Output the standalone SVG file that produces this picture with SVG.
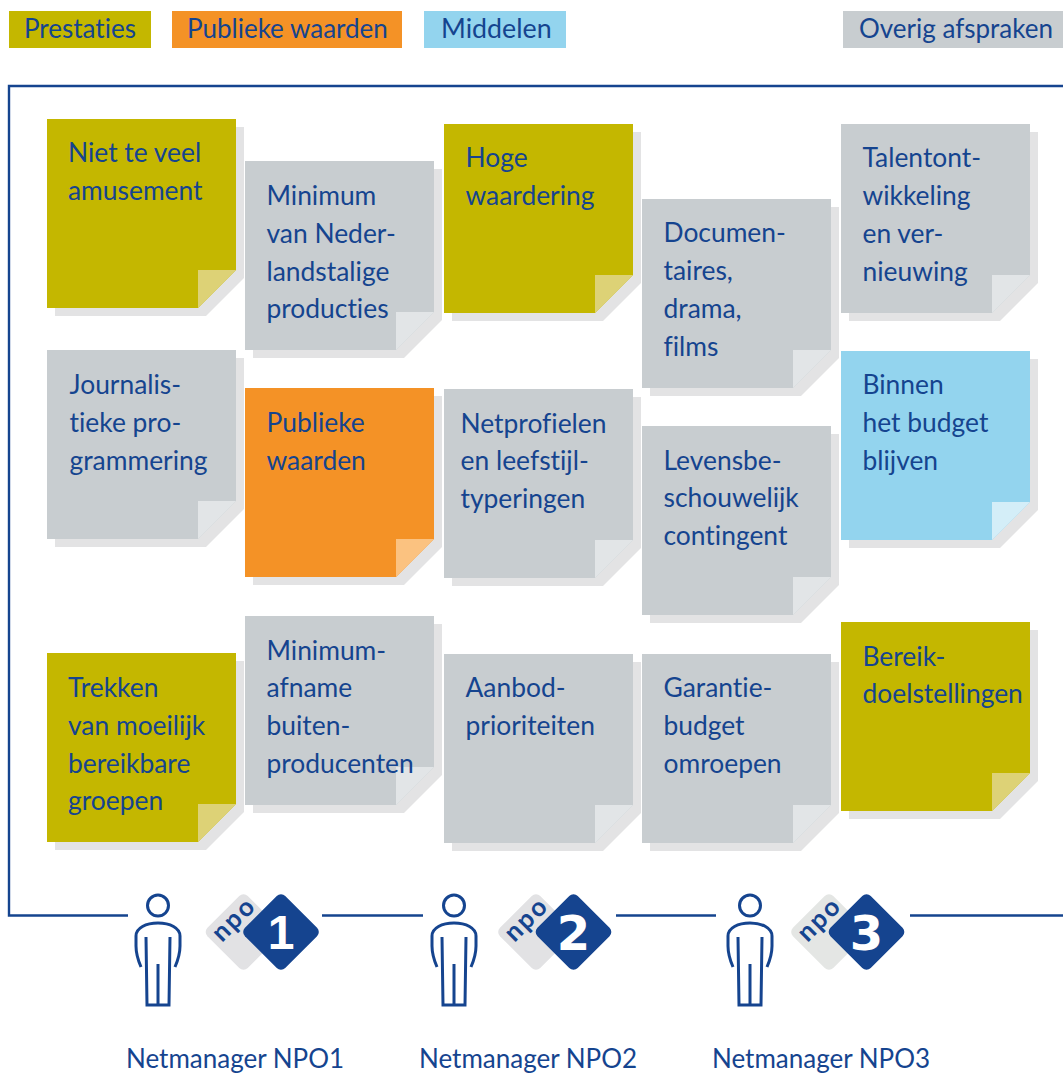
<svg xmlns="http://www.w3.org/2000/svg" width="1063" height="1075" viewBox="0 0 1063 1075">
<style>
text{font-family:Lato,"Noto Sans",sans-serif;font-size:26px;fill:#15448F;font-variant-ligatures:none}
g[id^=note] text{font-size:26.400px}
.sh{fill:#E3E3E4}
.ol{fill:#C4B700}.olf{fill:#DDD276}
.gr{fill:#C8CDD0}.grf{fill:#E2E5E7}
.or{fill:#F49226}.orf{fill:#FBC280}
.bl{fill:#93D4EE}.blf{fill:#D4EEF8}
.frame{fill:none;stroke:#15448F;stroke-width:2.400}
.person{fill:none;stroke:#15448F;stroke-width:3}
text.npo{font-size:26px;font-weight:700;letter-spacing:2px}
text.num{font-family:"DejaVu Sans",sans-serif;font-size:48px;font-weight:700;fill:#fff;text-anchor:middle}
text.one{font-family:"Liberation Sans",sans-serif}
</style>
<defs>
<path id="sheet" d="M0 0H189V151L151 189H0Z"/>
<path id="shadow" d="M8 8H197V159L159 197H8Z"/>
<path id="fold" d="M151 151H189L151 189Z"/>
<rect id="dia" x="-28.500" y="-28.500" width="57" height="57" rx="6"/>
<g id="man">
<circle cx="158" cy="905.600" r="10.500"/>
<path d="M141 967C138 960 136 955 136 946V936C136 928 146 923 158 923C170 923 180 928 180 936V946C180 955 178 960 175 967"/>
<path d="M146 937L147 1005H169L170 937M158 964V1005"/>
</g>
</defs>
<g id="legend">
<g id="legend-prestaties"><rect class="ol" x="9" y="11" width="142" height="37"/><text x="24" y="38">Prestaties</text></g>
<g id="legend-publieke"><rect class="or" x="172" y="11" width="230" height="37"/><text x="187" y="38">Publieke waarden</text></g>
<g id="legend-middelen"><rect class="bl" x="424" y="11" width="142" height="37"/><text x="441" y="38" style="font-size:26.800px">Middelen</text></g>
<g id="legend-overig"><rect class="gr" x="843" y="11" width="220" height="37"/><text x="859" y="38">Overig afspraken</text></g>
</g>
<g id="connectors">
<path class="frame" d="M128 915.500H9V86H1063M322 915.500H423M616 915.500H716M910 915.500H1063"/>
</g>
<g id="note-niet" transform="translate(47 119)"><use href="#shadow" class="sh"/><use href="#sheet" class="ol"/><use href="#fold" class="olf"/><text x="21" y="43">Niet te veel</text><text x="21" y="81">amusement</text></g>
<g id="note-minimum" transform="translate(245 161)"><use href="#shadow" class="sh"/><use href="#sheet" class="gr"/><use href="#fold" class="grf"/><text x="21.500" y="44">Minimum</text><text x="21.500" y="82">van Neder-</text><text x="21.500" y="120">landstalige</text><text x="21.500" y="157">producties</text></g>
<g id="note-hoge" transform="translate(444 124)"><use href="#shadow" class="sh"/><use href="#sheet" class="ol"/><use href="#fold" class="olf"/><text x="21.500" y="43">Hoge</text><text x="21.500" y="81">waardering</text></g>
<g id="note-documentaires" transform="translate(642 199)"><use href="#shadow" class="sh"/><use href="#sheet" class="gr"/><use href="#fold" class="grf"/><text x="21.500" y="43">Documen-</text><text x="21.500" y="81">taires,</text><text x="21.500" y="119">drama,</text><text x="21.500" y="157">films</text></g>
<g id="note-talent" transform="translate(841 124)"><use href="#shadow" class="sh"/><use href="#sheet" class="gr"/><use href="#fold" class="grf"/><text x="21.500" y="43">Talentont-</text><text x="21.500" y="81">wikkeling</text><text x="21.500" y="119">en ver-</text><text x="21.500" y="157">nieuwing</text></g>
<g id="note-journalistiek" transform="translate(47 350)"><use href="#shadow" class="sh"/><use href="#sheet" class="gr"/><use href="#fold" class="grf"/><text x="22.500" y="44">Journalis-</text><text x="22.500" y="82">tieke pro-</text><text x="22.500" y="120">grammering</text></g>
<g id="note-publieke" transform="translate(245 388)"><use href="#shadow" class="sh"/><use href="#sheet" class="or"/><use href="#fold" class="orf"/><text x="21.500" y="44">Publieke</text><text x="21.500" y="82">waarden</text></g>
<g id="note-netprofielen" transform="translate(444 389)"><use href="#shadow" class="sh"/><use href="#sheet" class="gr"/><use href="#fold" class="grf"/><text x="16.500" y="44">Netprofielen</text><text x="16.500" y="81">en leefstijl-</text><text x="16.500" y="119">typeringen</text></g>
<g id="note-levensbeschouwelijk" transform="translate(642 426)"><use href="#shadow" class="sh"/><use href="#sheet" class="gr"/><use href="#fold" class="grf"/><text x="21.500" y="44">Levensbe-</text><text x="21.500" y="81">schouwelijk</text><text x="21.500" y="119">contingent</text></g>
<g id="note-budget" transform="translate(841 351)"><use href="#shadow" class="sh"/><use href="#sheet" class="bl"/><use href="#fold" class="blf"/><text x="21.500" y="43">Binnen</text><text x="21.500" y="81">het budget</text><text x="21.500" y="119">blijven</text></g>
<g id="note-trekken" transform="translate(47 653)"><use href="#shadow" class="sh"/><use href="#sheet" class="ol"/><use href="#fold" class="olf"/><text x="21" y="44">Trekken</text><text x="21" y="82">van moeilijk</text><text x="21" y="120">bereikbare</text><text x="21" y="157">groepen</text></g>
<g id="note-minimumafname" transform="translate(245 616)"><use href="#shadow" class="sh"/><use href="#sheet" class="gr"/><use href="#fold" class="grf"/><text x="21.500" y="44">Minimum-</text><text x="21.500" y="81">afname</text><text x="21.500" y="119">buiten-</text><text x="21.500" y="157">producenten</text></g>
<g id="note-aanbod" transform="translate(444 654)"><use href="#shadow" class="sh"/><use href="#sheet" class="gr"/><use href="#fold" class="grf"/><text x="21.500" y="43">Aanbod-</text><text x="21.500" y="81">prioriteiten</text></g>
<g id="note-garantie" transform="translate(642 654)"><use href="#shadow" class="sh"/><use href="#sheet" class="gr"/><use href="#fold" class="grf"/><text x="21.500" y="43">Garantie-</text><text x="21.500" y="81">budget</text><text x="21.500" y="119">omroepen</text></g>
<g id="note-bereik" transform="translate(841 622)"><use href="#shadow" class="sh"/><use href="#sheet" class="ol"/><use href="#fold" class="olf"/><text x="21.500" y="44">Bereik-</text><text x="21.500" y="81">doelstellingen</text></g>
<g id="manager-npo1">
<use href="#man" class="person"/>
<g transform="translate(243.500 932) rotate(45)"><use href="#dia" fill="#E2E2E4"/></g>
<text class="npo" transform="translate(222 943) rotate(-45)">npo</text>
<g transform="translate(281 932) rotate(45)"><use href="#dia" fill="#15448F"/></g>
<text class="num one" x="281" y="949">1</text>
<text x="126" y="1068">Netmanager NPO1</text>
</g>
<g id="manager-npo2">
<use href="#man" class="person" x="296"/>
<g transform="translate(536 932) rotate(45)"><use href="#dia" fill="#E2E2E4"/></g>
<text class="npo" transform="translate(514.500 943) rotate(-45)">npo</text>
<g transform="translate(573.500 932) rotate(45)"><use href="#dia" fill="#15448F"/></g>
<text class="num" x="573.500" y="950">2</text>
<text x="419" y="1068">Netmanager NPO2</text>
</g>
<g id="manager-npo3">
<use href="#man" class="person" x="592"/>
<g transform="translate(829 932) rotate(45)"><use href="#dia" fill="#E4E6E4"/></g>
<text class="npo" transform="translate(807.500 943) rotate(-45)">npo</text>
<g transform="translate(866.500 932) rotate(45)"><use href="#dia" fill="#15448F"/></g>
<text class="num" x="866.500" y="950">3</text>
<text x="712" y="1068">Netmanager NPO3</text>
</g>
</svg>
